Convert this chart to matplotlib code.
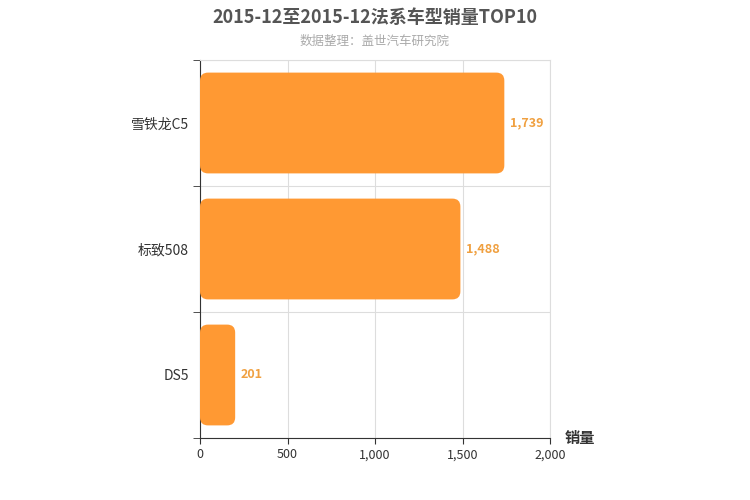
import matplotlib
matplotlib.use("Agg")
import matplotlib.pyplot as plt
from matplotlib.patches import FancyBboxPatch
from matplotlib.ticker import FuncFormatter

plt.rcParams['font.family'] = ['Noto Sans CJK SC', 'DejaVu Sans']

# Data (top to bottom)
models = ["雪铁龙C5", "标致508", "DS5"]
sales = [1739, 1488, 201]

TITLE = "2015-12至2015-12法系车型销量TOP10"
SUBTITLE = "数据整理：盖世汽车研究院"
BAR_COLOR = "#FF9933"
LABEL_COLOR = "#F0A040"

fig = plt.figure(figsize=(7.5, 5), dpi=100)
ax = fig.add_axes([200 / 750, 62 / 500, 350 / 750, 378 / 500])

n = len(models)
ys = [n - 1 - i for i in range(n)]
ax.set_xlim(0, 2000)
ax.set_ylim(-0.5, n - 0.5)

# rounded bars
rx = 8 * 2000 / 350
ry = 8 * n / 378
for y, v in zip(ys, sales):
    p = FancyBboxPatch((0, y - 0.4), v, 0.8,
                       boxstyle=f"round,pad=0,rounding_size={rx}",
                       mutation_aspect=ry / rx,
                       facecolor=BAR_COLOR, edgecolor="none", zorder=3)
    ax.add_patch(p)
    ax.text(v + 30, y, f"{v:,}", va="center", ha="left",
            color=LABEL_COLOR, fontsize=9, fontweight="bold", zorder=4)

ax.set_xticks([0, 500, 1000, 1500, 2000])
ax.xaxis.set_major_formatter(FuncFormatter(lambda x, _: f"{int(x):,}"))
ax.set_yticks(ys)
ax.set_yticklabels(models, fontsize=10, color="#333333")
ax.set_yticks([i - 0.5 for i in range(n + 1)], minor=True)
ax.tick_params(axis="y", which="major", length=0, pad=8)
ax.tick_params(axis="y", which="minor", length=5, color="#333333")
ax.tick_params(axis="x", length=4, labelsize=9, colors="#333333")

ax.grid(True, axis="x", color="#dddddd", linewidth=0.8, zorder=0)
ax.grid(True, axis="y", which="minor", color="#dddddd", linewidth=0.8, zorder=0)
for s in ["top", "right"]:
    ax.spines[s].set_color("#dddddd")
for s in ["left", "bottom"]:
    ax.spines[s].set_color("#333333")

fig.text(0.5, 0.965, TITLE, ha="center", va="center", fontsize=13,
         fontweight="bold", color="#555555")
fig.text(0.5, 0.918, SUBTITLE, ha="center", va="center", fontsize=9,
         color="#aaaaaa")
fig.text(565 / 750, 1 - 438 / 500, "销量", ha="left", va="center",
         fontsize=11, fontweight="bold", color="#333333")

fig.savefig("out.png", dpi=100)
